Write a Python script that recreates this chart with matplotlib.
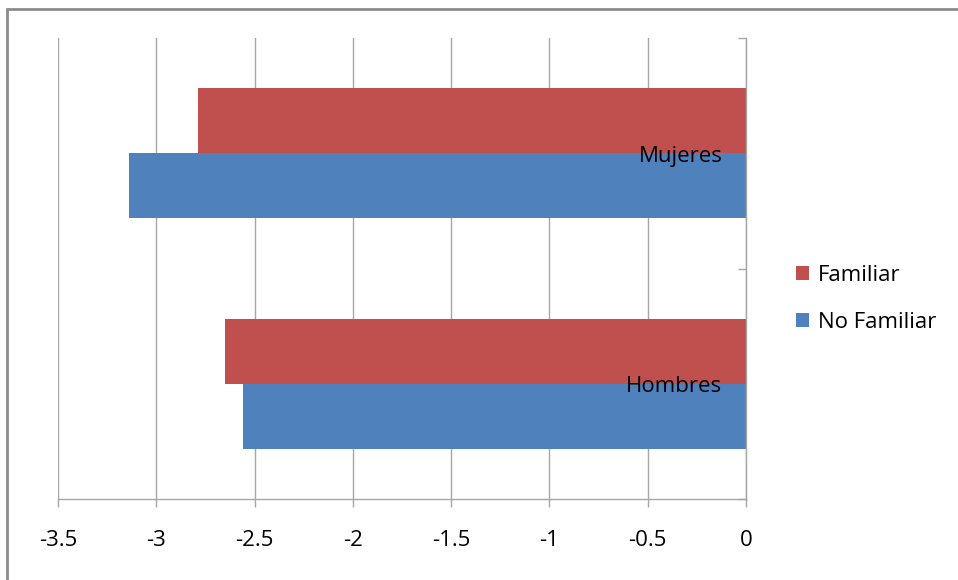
import matplotlib
matplotlib.use("Agg")
import matplotlib.pyplot as plt
from matplotlib.patches import Patch, Rectangle

categories = ["Hombres", "Mujeres"]
familiar = [-2.65, -2.79]
no_familiar = [-2.56, -3.14]
series_names = ["Familiar", "No Familiar"]
xticks = [-3.5, -3, -2.5, -2, -1.5, -1, -0.5, 0]
xtick_labels = ["-3.5", "-3", "-2.5", "-2", "-1.5", "-1", "-0.5", "0"]

RED = "#C0504D"
BLUE = "#4F81BD"
GRID = "#A6A6A6"

plt.rcParams['font.family'] = ['Open Sans', 'DejaVu Sans']

W, H = 958, 580
fig = plt.figure(figsize=(W / 100, H / 100), dpi=100)
ax = fig.add_axes([58 / W, (H - 499) / H, (746 - 58) / W, (499 - 38) / H])

h = 0.283
pos = [0.5, 1.5]
ax.barh([p + h / 2 for p in pos], familiar, height=h, color=RED, zorder=2)
ax.barh([p - h / 2 for p in pos], no_familiar, height=h, color=BLUE, zorder=2)

ax.set_xlim(-3.5, 0)
ax.set_ylim(0, 2)
ax.set_xticks(xticks)
ax.set_xticklabels(xtick_labels, fontsize=16)
ax.tick_params(axis='x', direction='out', length=6, width=1, color=GRID, pad=16)
ax.grid(axis='x', color=GRID, linewidth=1, zorder=0)

# category axis sits at x=0 (right side)
ax.yaxis.tick_right()
ax.set_yticks([0, 1, 2])
ax.set_yticklabels([])
ax.tick_params(axis='y', direction='in', length=6, width=1, color=GRID)
for s in ['top', 'left']:
    ax.spines[s].set_visible(False)
for s in ['right', 'bottom']:
    ax.spines[s].set_color(GRID)
    ax.spines[s].set_linewidth(1)

for p, name in zip(pos, categories):
    ax.text(-0.12, p - 0.012, name, ha='right', va='center', fontsize=16, zorder=3)

handles = [Patch(facecolor=RED), Patch(facecolor=BLUE)]
fig.legend(handles, series_names, loc='center left',
           bbox_to_anchor=(776 / W, 1 - 299 / H), frameon=False,
           fontsize=16, handlelength=0.6, handleheight=0.6,
           handletextpad=0.4, labelspacing=1.15)

# outer chart border
fig.patches.append(Rectangle((7 / W, -0.1), 1.2, 1.1 - 9 / H,
                             transform=fig.transFigure, fill=False,
                             edgecolor="#8C8C8C", linewidth=2))

fig.savefig("out.png", dpi=100)
